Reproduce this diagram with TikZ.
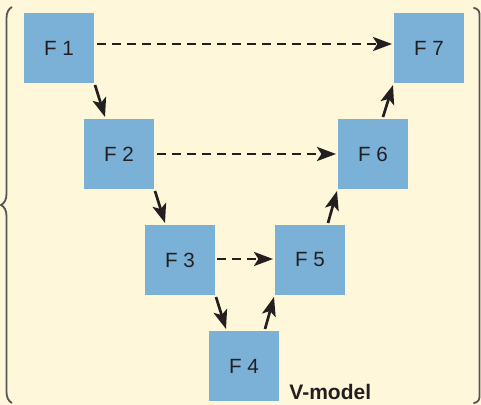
\documentclass[tikz,border=0pt]{standalone}
\usepackage{fontspec}
\setmainfont{Liberation Sans}
\usetikzlibrary{positioning,calc,arrows.meta,decorations.pathreplacing}
\definecolor{vcream}{RGB}{255,247,217}
\definecolor{vblue}{RGB}{123,177,215}
\definecolor{vink}{RGB}{35,31,32}
\definecolor{vgray}{RGB}{85,85,85}

\begin{document}
\begin{tikzpicture}[x=0.5pt,y=-0.5pt,
		phase/.style={fill=vblue,minimum size=35pt,inner sep=0pt,outer sep=0pt,text=vink,font=\fontsize{10.3}{12}\selectfont},
		down/.style={draw=vink,line width=1.35pt,-{Stealth[length=9.5pt,width=7pt,inset=2.2pt]}},
		across/.style={down,dash pattern=on 4.5pt off 3pt}]
		\useasboundingbox (0,0) rectangle (481,405);
		\fill[vcream] (0,0) rectangle (481,405);

		\draw[vgray,line width=0.9pt,decorate,decoration={brace,amplitude=5.5pt}] (12,403) -- (12,7);
		\draw[vgray,line width=0.9pt,rounded corners=3pt] (474,8) -| (479.5,403) -- (474,403);

		\node[phase] (f1) at (59,48) {F 1};
		\node[phase] (f2) at (119,154) {F 2};
		\node[phase] (f3) at (180,260) {F 3};
		\node[phase] (f4) at (244,366) {F 4};
		\node[phase] (f5) at (310,260) {F 5};
		\node[phase] (f6) at (373,154) {F 6};
		\node[phase] (f7) at (429,48) {F 7};
		\node[anchor=base west,inner sep=0pt,text=vink,font=\fontsize{10.5}{12}\selectfont\bfseries] (vlabel) at (289,399) {V-model};

		\draw[down] ($(f1.south east)+(1,2)$) -- ($(f2.north west)+(21,-2)$);
		\draw[down] ($(f2.south east)+(1,2)$) -- ($(f3.north west)+(20,-2)$);
		\draw[down] ($(f3.south east)+(1,2)$) -- ($(f4.north west)+(17,-2)$);
		\draw[down] ($(f4.north east)+(-14,-2)$) -- ($(f5.south west)+(-1,2)$);
		\draw[down] ($(f5.north east)+(-17,-2)$) -- ($(f6.south west)+(-1,2)$);
		\draw[down] ($(f6.north east)+(-25,-2)$) -- ($(f7.south west)+(-1,2)$);

		\draw[across] ($(f1.east)+(3,-4)$) -- ($(f7.west)+(-2,-4)$);
		\draw[across] ($(f2.east)+(3,0)$) -- ($(f6.west)+(-2,0)$);
		\draw[across] ($(f3.east)+(2,-1)$) -- ($(f5.west)+(-2,-1)$);
	\end{tikzpicture}
\end{document}
